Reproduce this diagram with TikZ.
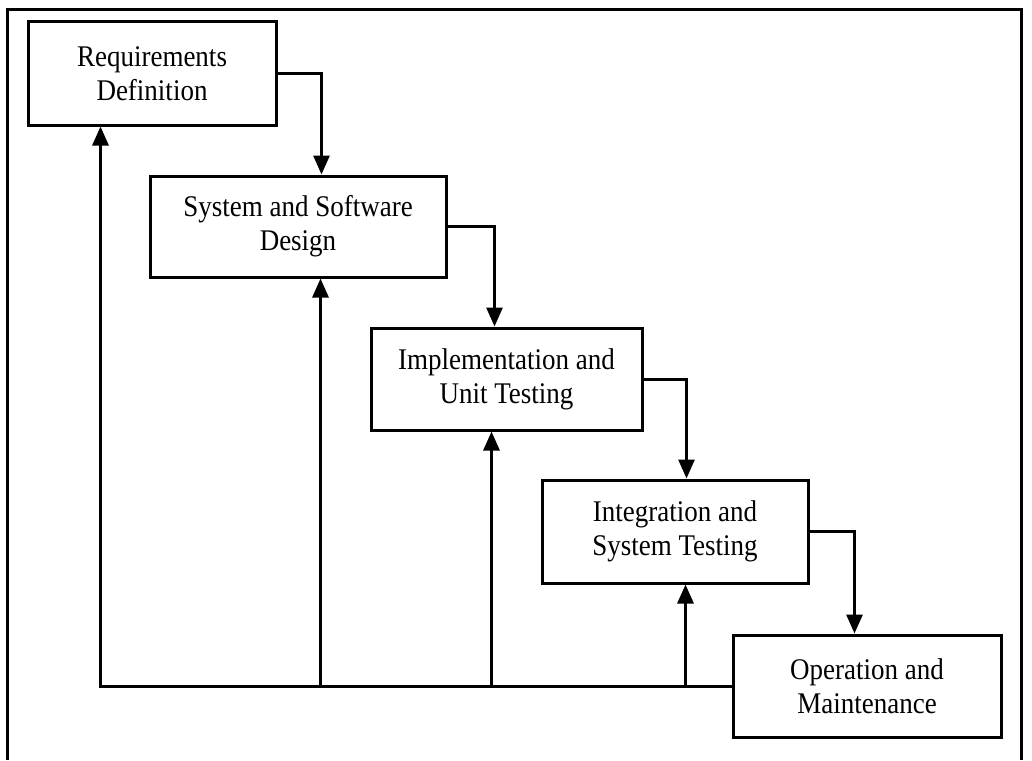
\documentclass[tikz,border=0pt]{standalone}
\usepackage{fontspec}
\setmainfont{Liberation Serif}[FakeStretch=0.9]
\usetikzlibrary{arrows.meta}
\begin{document}
\begin{tikzpicture}[x=1pt,y=-1pt,
  box/.style={draw=black, line width=3pt, align=center, inner sep=0pt,
    font=\fontsize{30}{34}\selectfont},
  conn/.style={line width=3pt},
  arr/.style={conn, -{Triangle[length=19pt,width=16pt]}}]
\useasboundingbox (0,0) rectangle (1032,760);
\draw[line width=3pt] (7,760) -- (7,10) -- (1021,10) -- (1021,760);
\node[box, minimum width=248pt, minimum height=103pt] (req) at (152,73.5) {Requirements\\Definition};
\node[box, minimum width=296pt, minimum height=101pt] (sys) at (298,226.5) {System and Software\\Design};
\node[box, minimum width=271pt, minimum height=102pt] (imp) at (506.5,379) {Implementation and\\Unit Testing};
\node[box, minimum width=266pt, minimum height=103pt] (int) at (675,531.5) {Integration and\\System Testing};
\node[box, minimum width=268pt, minimum height=102pt] (op) at (867,686) {Operation and\\Maintenance};
\draw[arr] (req.east) -| ([xshift=173pt]sys.north west);
\draw[arr] (sys.east) -| ([xshift=125pt]imp.north west);
\draw[arr] (imp.east) -| ([xshift=146pt]int.north west);
\draw[arr] (int.east) -| ([xshift=123pt]op.north west);
\draw[arr] (op.west) -| ([xshift=74pt]req.south west);
\draw[arr] ([xshift=172pt]sys.south west |- op.west) -- ([xshift=172pt]sys.south west);
\draw[arr] ([xshift=122pt]imp.south west |- op.west) -- ([xshift=122pt]imp.south west);
\draw[arr] ([xshift=145pt]int.south west |- op.west) -- ([xshift=145pt]int.south west);
\end{tikzpicture}
\end{document}
